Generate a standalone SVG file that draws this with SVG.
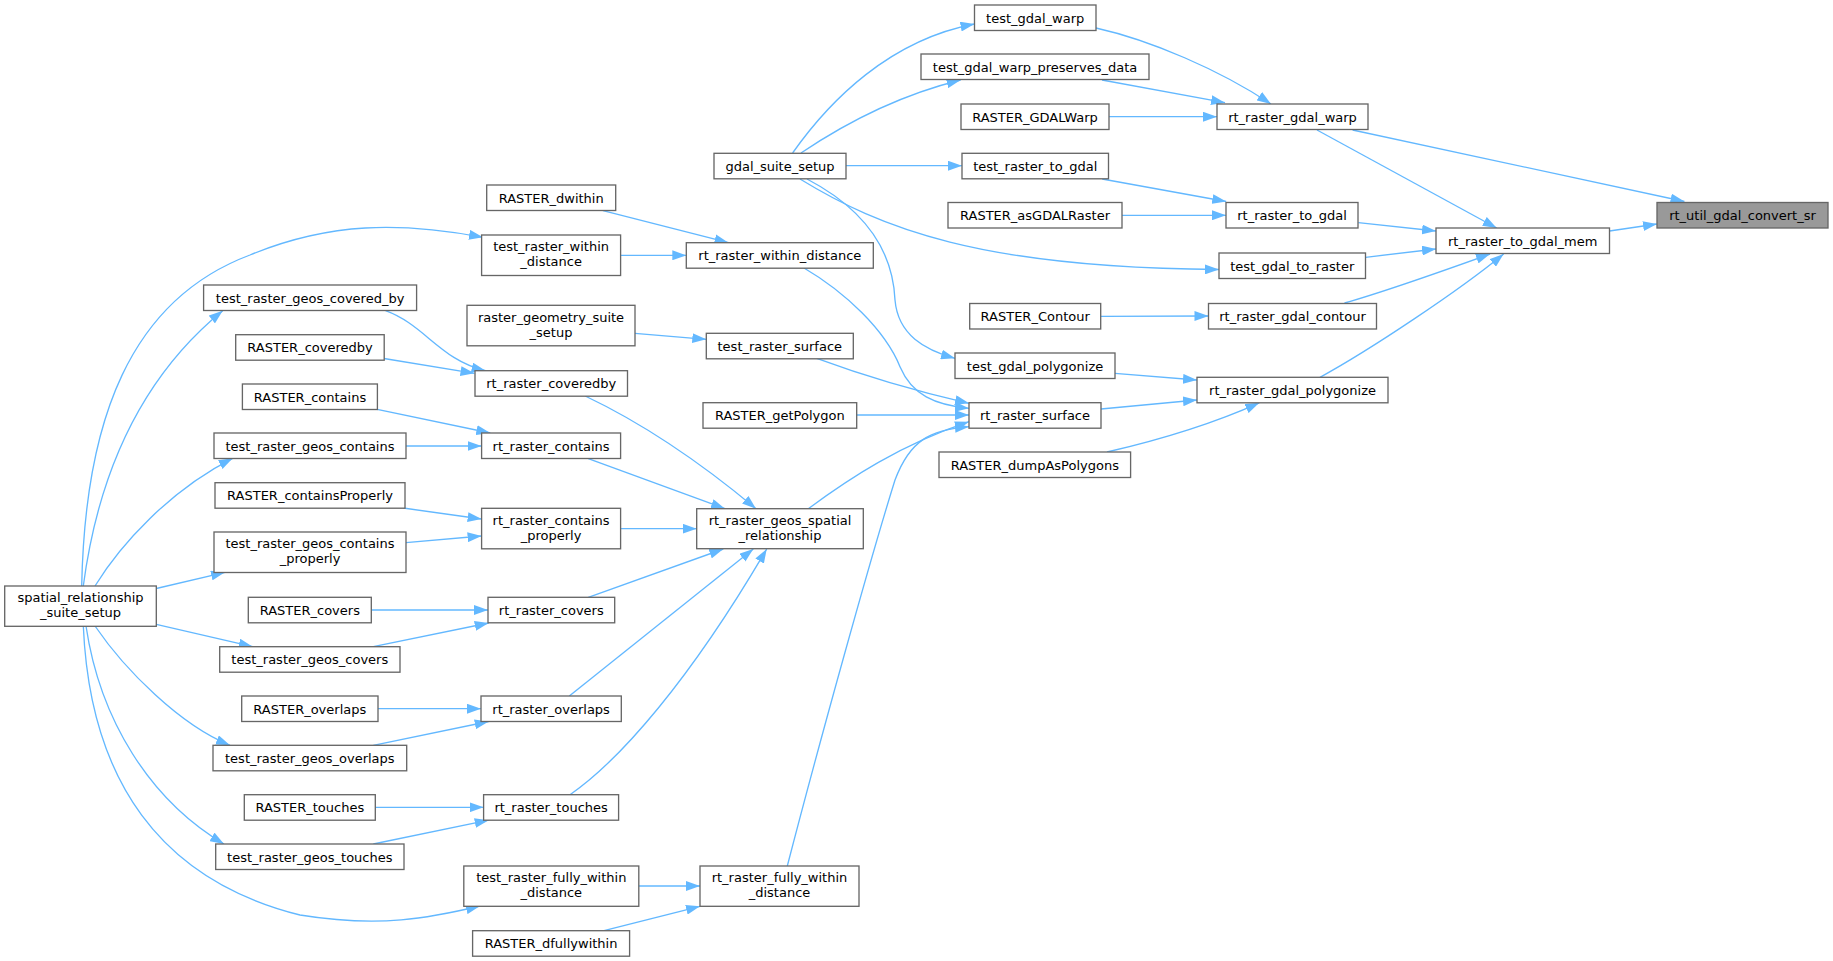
<svg xmlns="http://www.w3.org/2000/svg" width="1833" height="961" viewBox="0 0 1833 961">
<defs>
<style>
.node rect{fill:#ffffff;stroke:#666666;stroke-width:1.33}
.node.main rect{fill:#999999}
.node text{font-family:"DejaVu Sans","Liberation Sans",sans-serif;font-size:13px;text-anchor:middle;fill:#000000}
#edges path{fill:none;stroke:#63b8ff;stroke-width:1.33;marker-end:url(#arr)}
</style>
<marker id="arr" markerUnits="userSpaceOnUse" markerWidth="14" markerHeight="10" viewBox="0 0 13.3 9.4" refX="13.3" refY="4.7" orient="auto">
<path d="M0,0 L13.3,4.7 L0,9.4 z" fill="#63b8ff"/>
</marker>
</defs>
<rect x="0" y="0" width="1833" height="961" fill="#ffffff"/>
<g id="edges">
<path d="M1609.5,231 L1657,224"/>
<path d="M1352.6,130 L1684.5,201.5"/>
<path d="M1317,130 L1496.7,228"/>
<path d="M1358.3,222.7 L1436,231"/>
<path d="M1365.5,257.3 L1436,249"/>
<path d="M1344.5,303 C1390,290 1440,272 1490,254"/>
<path d="M1320,377.3 C1370,350 1460,290 1503.6,254"/>
<path d="M1096,28 C1150,40 1220,70 1271,104"/>
<path d="M1102,80 L1225,102.7"/>
<path d="M1109,116.7 L1217,116.7"/>
<path d="M1102.2,179 L1226.2,201.5"/>
<path d="M1122,215.3 L1226,215.3"/>
<path d="M800,179 C880,228 980,268 1219,269.5"/>
<path d="M1101,316.3 L1208.5,316"/>
<path d="M1115,373.3 L1197,380"/>
<path d="M1101,409 L1197,400"/>
<path d="M1107,452 C1150,442 1210,425 1259.3,402.8"/>
<path d="M792.6,153 C830,100 890,40 974.5,24"/>
<path d="M801,153 C850,120 900,95 960.6,80"/>
<path d="M846,165.7 L962,165.7"/>
<path d="M807,179 C870,212 893,255 895,300 C898,335 925,350 955,358.3"/>
<path d="M603,210.7 L728.5,242.7"/>
<path d="M620.7,255.3 L686.3,255.3"/>
<path d="M804,268 C845,292 885,330 900,366.7 C912,395 935,405 969,408.3"/>
<path d="M635,333.3 L706.3,339.3"/>
<path d="M816.7,358.3 C870,378 920,392 969,403.3"/>
<path d="M856.7,415 L969,415"/>
<path d="M808.3,508.7 C850,478 900,445 969,421.7"/>
<path d="M787.3,866 C820,740 870,560 895,480 C910,440 930,430 969,426.7"/>
<path d="M81.7,586 C85,420 130,300 250,255 C330,222 400,222 483,237.3"/>
<path d="M83.3,586 C100,460 150,370 222.7,310.7"/>
<path d="M95,586 C120,545 170,490 232.7,458.3"/>
<path d="M156.3,588.5 L225,572.3"/>
<path d="M156.3,624.3 L252.7,646.7"/>
<path d="M95,626 C125,670 180,725 230,745.3"/>
<path d="M86,626 C100,720 150,800 224,844"/>
<path d="M83.3,626 C90,780 160,880 300,915 C380,928 430,918 480,906"/>
<path d="M385.5,310.7 C425,325 440,360 485.6,370.7"/>
<path d="M384,358.5 L474.5,373.3"/>
<path d="M585.2,396 C640,422 700,462 756,508.7"/>
<path d="M377.2,409.3 L490.3,433"/>
<path d="M406,446 L481.6,446"/>
<path d="M588.3,458.7 L725,508.7"/>
<path d="M403.3,508 L481.6,519"/>
<path d="M406,542.7 L481.6,536"/>
<path d="M620.7,528.7 L696.7,528.7"/>
<path d="M588.3,597.3 L723.3,549"/>
<path d="M371.3,610 L488,610"/>
<path d="M373.3,646.7 L488.7,623"/>
<path d="M569.3,696 L753.3,549"/>
<path d="M378,708.7 L481,708.7"/>
<path d="M373.3,745.3 L488.7,721.5"/>
<path d="M570,794.7 C620,760 690,680 766.7,549"/>
<path d="M375.3,807.3 L483.6,807.3"/>
<path d="M373.3,844 L488.7,820.2"/>
<path d="M638.7,886 L700,886"/>
<path d="M604,930.7 L700,906.3"/>
</g>
<g id="n_convert" class="node main"><rect x="1657" y="202.5" width="171" height="25.5"/><text x="1742.5" y="220">rt_util_gdal_convert_sr</text></g>
<g id="n_mem" class="node"><rect x="1436" y="228" width="173.5" height="25.5"/><text x="1522.7" y="245.5">rt_raster_to_gdal_mem</text></g>
<g id="n_warp" class="node"><rect x="1217" y="104" width="151" height="25.5"/><text x="1292.5" y="121.5">rt_raster_gdal_warp</text></g>
<g id="n_togdal" class="node"><rect x="1226" y="202.5" width="132" height="25.5"/><text x="1292" y="220">rt_raster_to_gdal</text></g>
<g id="n_tgtr" class="node"><rect x="1219" y="253" width="146.5" height="25.5"/><text x="1292.2" y="270.5">test_gdal_to_raster</text></g>
<g id="n_contour" class="node"><rect x="1208.5" y="303.5" width="168" height="25.5"/><text x="1292.5" y="321">rt_raster_gdal_contour</text></g>
<g id="n_poly" class="node"><rect x="1197" y="377.3" width="191" height="25.5"/><text x="1292.5" y="394.8">rt_raster_gdal_polygonize</text></g>
<g id="n_tgw" class="node"><rect x="974.5" y="5" width="121.5" height="25.5"/><text x="1035.2" y="22.5">test_gdal_warp</text></g>
<g id="n_tgwpd" class="node"><rect x="921" y="54" width="228" height="25.5"/><text x="1035" y="71.5">test_gdal_warp_preserves_data</text></g>
<g id="n_gdalwarp" class="node"><rect x="961" y="104" width="148" height="25.5"/><text x="1035" y="121.5">RASTER_GDALWarp</text></g>
<g id="n_gss" class="node"><rect x="714" y="153.3" width="132" height="25.5"/><text x="780" y="170.8">gdal_suite_setup</text></g>
<g id="n_trtg" class="node"><rect x="962" y="153.3" width="146.5" height="25.5"/><text x="1035.2" y="170.8">test_raster_to_gdal</text></g>
<g id="n_asgdal" class="node"><rect x="948" y="202.5" width="174" height="25.5"/><text x="1035" y="220">RASTER_asGDALRaster</text></g>
<g id="n_rwd" class="node"><rect x="686.3" y="242.7" width="187" height="25.5"/><text x="779.8" y="260.2">rt_raster_within_distance</text></g>
<g id="n_rcontour" class="node"><rect x="969.7" y="303.5" width="131" height="25.5"/><text x="1035.2" y="321">RASTER_Contour</text></g>
<g id="n_dwithin" class="node"><rect x="486.7" y="185" width="129" height="25.5"/><text x="551.2" y="202.5">RASTER_dwithin</text></g>
<g id="n_trwd" class="node"><rect x="481.6" y="235" width="139" height="40.5"/><text x="551.1" y="251.2">test_raster_within</text><text x="551.1" y="266.2">_distance</text></g>
<g id="n_tgcb" class="node"><rect x="203.6" y="285" width="213" height="25.5"/><text x="310.1" y="302.5">test_raster_geos_covered_by</text></g>
<g id="n_rgss" class="node"><rect x="467" y="305.3" width="168" height="40.5"/><text x="551" y="321.5">raster_geometry_suite</text><text x="551" y="336.5">_setup</text></g>
<g id="n_Rcb" class="node"><rect x="235.7" y="334.7" width="148.5" height="25.5"/><text x="310" y="352.2">RASTER_coveredby</text></g>
<g id="n_rcb" class="node"><rect x="475" y="370.7" width="152.5" height="25.5"/><text x="551.2" y="388.2">rt_raster_coveredby</text></g>
<g id="n_Rcont" class="node"><rect x="242.4" y="384" width="135" height="25.5"/><text x="310" y="401.5">RASTER_contains</text></g>
<g id="n_tgc" class="node"><rect x="214" y="433" width="192" height="25.5"/><text x="310" y="450.5">test_raster_geos_contains</text></g>
<g id="n_rc" class="node"><rect x="481.6" y="433" width="139" height="25.5"/><text x="551.1" y="450.5">rt_raster_contains</text></g>
<g id="n_Rcp" class="node"><rect x="215" y="482.7" width="190" height="25.5"/><text x="310" y="500.2">RASTER_containsProperly</text></g>
<g id="n_rcp" class="node"><rect x="481.6" y="508.3" width="139" height="40.5"/><text x="551.1" y="524.5">rt_raster_contains</text><text x="551.1" y="539.5">_properly</text></g>
<g id="n_tgcp" class="node"><rect x="214" y="532" width="192" height="40.5"/><text x="310" y="548.2">test_raster_geos_contains</text><text x="310" y="563.2">_properly</text></g>
<g id="n_srss" class="node"><rect x="4.7" y="586" width="151.6" height="40.3"/><text x="80.5" y="602.2">spatial_relationship</text><text x="80.5" y="617.2">_suite_setup</text></g>
<g id="n_Rcov" class="node"><rect x="248.3" y="597.3" width="123" height="25.5"/><text x="309.8" y="614.8">RASTER_covers</text></g>
<g id="n_rcov" class="node"><rect x="488" y="597.3" width="126.7" height="25.5"/><text x="551.3" y="614.8">rt_raster_covers</text></g>
<g id="n_tgcov" class="node"><rect x="219.7" y="646.7" width="180.3" height="25.5"/><text x="309.8" y="664.2">test_raster_geos_covers</text></g>
<g id="n_Rov" class="node"><rect x="241.7" y="696" width="136.3" height="25.5"/><text x="309.8" y="713.5">RASTER_overlaps</text></g>
<g id="n_rov" class="node"><rect x="481" y="696" width="140.3" height="25.5"/><text x="551.1" y="713.5">rt_raster_overlaps</text></g>
<g id="n_tgov" class="node"><rect x="213" y="745.3" width="193.7" height="25.5"/><text x="309.8" y="762.8">test_raster_geos_overlaps</text></g>
<g id="n_Rt" class="node"><rect x="244.3" y="794.7" width="131" height="25.5"/><text x="309.8" y="812.2">RASTER_touches</text></g>
<g id="n_rt" class="node"><rect x="483.6" y="794.7" width="135" height="25.5"/><text x="551.1" y="812.2">rt_raster_touches</text></g>
<g id="n_tgt" class="node"><rect x="215.7" y="844" width="188.3" height="25.5"/><text x="309.8" y="861.5">test_raster_geos_touches</text></g>
<g id="n_trfwd" class="node"><rect x="463.8" y="866" width="175" height="40.3"/><text x="551.3" y="882.2">test_raster_fully_within</text><text x="551.3" y="897.2">_distance</text></g>
<g id="n_Rdfw" class="node"><rect x="472.6" y="930.7" width="157" height="25.5"/><text x="551.1" y="948.2">RASTER_dfullywithin</text></g>
<g id="n_rfwd" class="node"><rect x="700" y="866" width="159" height="40.3"/><text x="779.5" y="882.2">rt_raster_fully_within</text><text x="779.5" y="897.2">_distance</text></g>
<g id="n_trs" class="node"><rect x="706.3" y="333.3" width="147" height="25.5"/><text x="779.8" y="350.8">test_raster_surface</text></g>
<g id="n_tgp" class="node"><rect x="955" y="353" width="160" height="25.5"/><text x="1035" y="370.5">test_gdal_polygonize</text></g>
<g id="n_rs" class="node"><rect x="969" y="402.7" width="132" height="25.5"/><text x="1035" y="420.2">rt_raster_surface</text></g>
<g id="n_Rgp" class="node"><rect x="703" y="402.7" width="153.7" height="25.5"/><text x="779.8" y="420.2">RASTER_getPolygon</text></g>
<g id="n_Rdap" class="node"><rect x="939" y="452" width="191.6" height="25.5"/><text x="1034.8" y="469.5">RASTER_dumpAsPolygons</text></g>
<g id="n_rgsr" class="node"><rect x="696.7" y="508.7" width="166.6" height="40"/><text x="780" y="524.9">rt_raster_geos_spatial</text><text x="780" y="539.9">_relationship</text></g>
</svg>
